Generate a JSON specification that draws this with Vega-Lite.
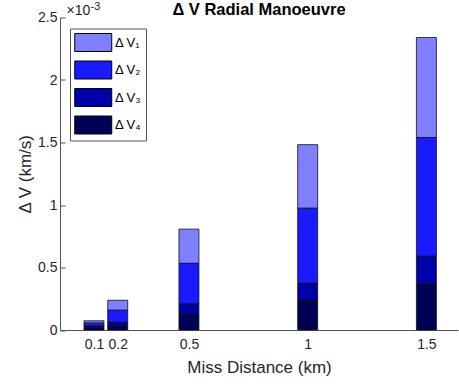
{
  "$schema": "https://vega.github.io/schema/vega-lite/v6.json",
  "width": 398,
  "height": 312.5,
  "autosize": "none",
  "padding": {"left": 60, "top": 17.5, "right": 0.5, "bottom": 57},
  "background": "white",
  "config": {"view": {"stroke": null}, "font": "Liberation Sans"},
  "title": {"text": "Δ V Radial Manoeuvre", "fontSize": 16.5, "fontWeight": "bold", "font": "Liberation Sans", "color": "#000000", "anchor": "middle", "baseline": "alphabetic", "offset": 0, "frame": "group", "dy": 31},
  "data": {"values": [
    {"d": 0.1, "series": "Δ V₁", "v": 0.000019},
    {"d": 0.1, "series": "Δ V₂", "v": 0.000023},
    {"d": 0.1, "series": "Δ V₃", "v": 0.000012},
    {"d": 0.1, "series": "Δ V₄", "v": 0.00002},
    {"d": 0.2, "series": "Δ V₁", "v": 0.00008},
    {"d": 0.2, "series": "Δ V₂", "v": 0.000096},
    {"d": 0.2, "series": "Δ V₃", "v": 0.000027},
    {"d": 0.2, "series": "Δ V₄", "v": 0.000035},
    {"d": 0.5, "series": "Δ V₁", "v": 0.000274},
    {"d": 0.5, "series": "Δ V₂", "v": 0.000325},
    {"d": 0.5, "series": "Δ V₃", "v": 0.00008},
    {"d": 0.5, "series": "Δ V₄", "v": 0.000128},
    {"d": 1, "series": "Δ V₁", "v": 0.000509},
    {"d": 1, "series": "Δ V₂", "v": 0.000601},
    {"d": 1, "series": "Δ V₃", "v": 0.000136},
    {"d": 1, "series": "Δ V₄", "v": 0.000237},
    {"d": 1.5, "series": "Δ V₁", "v": 0.0008},
    {"d": 1.5, "series": "Δ V₂", "v": 0.00095},
    {"d": 1.5, "series": "Δ V₃", "v": 0.00022},
    {"d": 1.5, "series": "Δ V₄", "v": 0.00037}
  ]},
  "layer": [
    {
      "mark": {"type": "bar", "size": 20, "stroke": "#111111", "strokeWidth": 0.8},
      "encoding": {
        "x": {"field": "d", "type": "quantitative",
          "scale": {"domain": [-0.022, 1.612], "nice": false, "zero": false},
          "axis": {"values": [0.1, 0.2, 0.5, 1, 1.5], "labelExpr": "format(datum.value, '~g')", "grid": false,
            "title": "Miss Distance (km)", "titleFontSize": 17, "titleFontWeight": "normal", "titleColor": "#262626", "titlePadding": 8,
            "labelFontSize": 14, "labelColor": "#262626", "labelPadding": 12, "tickSize": -5, "tickColor": "#555555",
            "domainColor": "#555555", "labelFlush": false, "labelOverlap": false}},
        "y": {"field": "v", "type": "quantitative", "stack": true,
          "scale": {"domain": [0, 0.0025], "nice": false},
          "axis": {"values": [0, 0.0005, 0.001, 0.0015, 0.002, 0.0025], "labelExpr": "format(datum.value * 1000, '~g')", "grid": false,
            "title": "Δ V (km/s)", "titleFontSize": 17, "titleFontWeight": "normal", "titleColor": "#262626", "titlePadding": 3,
            "labelFontSize": 14, "labelColor": "#262626", "labelPadding": 8, "tickSize": -5, "tickColor": "#555555",
            "domainColor": "#555555", "labelFlush": false, "labelOverlap": false}},
        "color": {"field": "series", "type": "nominal",
          "scale": {"domain": ["Δ V₁", "Δ V₂", "Δ V₃", "Δ V₄"], "range": ["#8080ff", "#1a1aff", "#0000aa", "#000055"]},
          "legend": {"title": null, "orient": "none", "legendX": 10, "legendY": 11,
            "symbolType": "M-1,-0.973H3V0.973H-1Z", "symbolSize": 342, "symbolStrokeColor": "#000000", "symbolStrokeWidth": 1,
            "symbolOpacity": 1, "symbolFillOpacity": 1,
            "labelFontSize": 13, "labelColor": "#000000", "labelOffset": 21, "rowPadding": 5.5,
            "padding": 4, "strokeColor": "#555555", "fillColor": "#ffffff"}},
        "order": {"field": "series", "sort": "descending"}
      }
    },
    {
      "data": {"values": [{"label": "×10"}]},
      "mark": {"type": "text", "align": "left", "baseline": "alphabetic", "fontSize": 14, "fontWeight": "normal", "color": "#262626", "dx": 1.5, "dy": -2.5},
      "encoding": {
        "text": {"field": "label"},
        "x": {"datum": -0.022, "type": "quantitative"},
        "y": {"datum": 0.0025, "type": "quantitative"}
      }
    },
    {
      "data": {"values": [{"label": "-3"}]},
      "mark": {"type": "text", "align": "left", "baseline": "alphabetic", "fontSize": 11, "fontWeight": "normal", "color": "#262626", "dx": 25.5, "dy": -8},
      "encoding": {
        "text": {"field": "label"},
        "x": {"datum": -0.022, "type": "quantitative"},
        "y": {"datum": 0.0025, "type": "quantitative"}
      }
    }
  ]
}
